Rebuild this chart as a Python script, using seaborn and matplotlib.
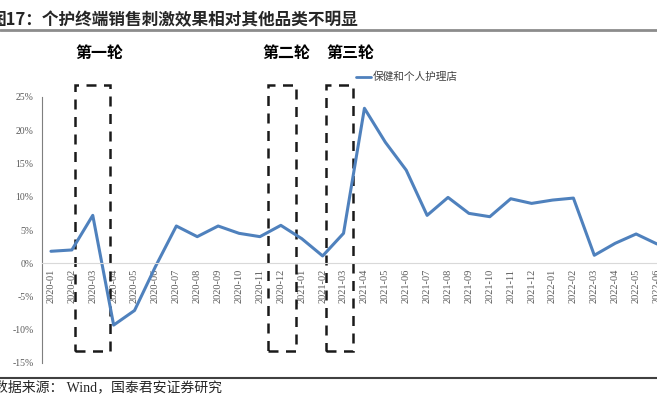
import matplotlib
matplotlib.use('Agg')
import matplotlib.pyplot as plt
from matplotlib.patches import Rectangle
from matplotlib.lines import Line2D
import seaborn as sns
import pandas as pd

# 数据：保健和个人护理店 零售额同比（%）
meses = ['2020-01', '2020-02', '2020-03', '2020-04', '2020-05', '2020-06', '2020-07',
         '2020-08', '2020-09', '2020-10', '2020-11', '2020-12', '2021-01', '2021-02',
         '2021-03', '2021-04', '2021-05', '2021-06', '2021-07', '2021-08', '2021-09',
         '2021-10', '2021-11', '2021-12', '2022-01', '2022-02', '2022-03', '2022-04',
         '2022-05', '2022-06']
valores = [1.8, 2.0, 7.2, -9.3, -7.1, -0.5, 5.6,
           4.0, 5.6, 4.5, 4.0, 5.7, 3.7, 1.1,
           4.5, 23.3, 18.2, 14.0, 7.2, 9.9, 7.5,
           7.0, 9.7, 9.0, 9.5, 9.8, 1.2, 3.0,
           4.4, 2.9]
serie = '保健和个人护理店'
rodadas = ['第一轮', '第二轮', '第三轮']
y_ticks = [-15, -10, -5, 0, 5, 10, 15, 20, 25]

df = pd.DataFrame({'mes': range(len(meses)), 'valor': valores, 'serie': serie})

sns.set_style('white')
plt.rcParams['font.family'] = ['Liberation Serif', 'Noto Sans CJK SC', 'DejaVu Sans']

fig = plt.figure(figsize=(6.57, 3.99), dpi=100)
ax = fig.add_axes([42 / 657, 36 / 399, 615 / 657, 266 / 399])

cor = '#4F81BD'
sns.lineplot(data=df, x='mes', y='valor', color=cor, linewidth=2.2, ax=ax, legend=False)
ax.lines[0].set_solid_joinstyle('round')
ax.lines[0].set_solid_capstyle('round')

ax.set_xlim(-9 / 21, 606 / 21)
ax.set_ylim(-15, 25)
ax.set_xlabel('')
ax.set_ylabel('')

for s in ['top', 'right']:
    ax.spines[s].set_visible(False)
ax.spines['bottom'].set_position(('data', 0))
ax.spines['bottom'].set_color('#D9D9D9')
ax.spines['bottom'].set_linewidth(0.8)
ax.spines['left'].set_color('#7F7F7F')
ax.spines['left'].set_linewidth(0.8)

ax.set_yticks(y_ticks)
ax.set_yticklabels([f'{v}%' for v in y_ticks], fontsize=7, color='#595959')
ax.set_xticks(range(len(meses)))
ax.set_xticklabels(meses, rotation=90, fontsize=7.5, color='#595959', va='top', ha='center')
ax.tick_params(axis='y', direction='in', length=3, color='#7F7F7F', pad=6)
ax.tick_params(axis='x', length=0, pad=4)

# caixas tracejadas das rodadas
caixas = [(1.14, 2.81), (10.38, 11.71), (13.14, 14.43)]
centros_texto = [2.33, 11.29, 14.33]
for (x0, x1), xc, nome in zip(caixas, centros_texto, rodadas):
    ax.add_patch(Rectangle((x0, -13.2), x1 - x0, 40.0, fill=False, edgecolor='#1a1a1a',
                           linewidth=1.8, linestyle=(0, (4, 3)), clip_on=False))
    ax.text(xc, 31.6, nome, ha='center', va='center', fontsize=11.5,
            fontweight='bold', family=['Noto Sans CJK SC'], color='black')

# legenda
handle = Line2D([0], [0], color=cor, linewidth=2)
leg = ax.legend([handle], [serie], loc='center left', bbox_to_anchor=(351 / 657, 322 / 399),
                bbox_transform=fig.transFigure, frameon=False, fontsize=7.7,
                handlelength=1.4, handletextpad=0.15, borderpad=0)
for t in leg.get_texts():
    t.set_color('#404040')
    t.set_family(['Noto Sans CJK SC'])

# título e rodapé
fig.text(-10 / 657, 379 / 399, '图17：个护终端销售刺激效果相对其他品类不明显', fontsize=12,
         fontweight='bold', family=['Noto Sans CJK SC'], ha='left', va='center')
fig.add_artist(Line2D([0, 1], [369 / 399, 369 / 399], color='#8C8C8C', linewidth=2))
fig.add_artist(Line2D([0, 1], [21 / 399, 21 / 399], color='#404040', linewidth=1.5))
fig.text(-6 / 657, 12 / 399, '数据来源： Wind，国泰君安证券研究', fontsize=10,
         family=['Liberation Serif', 'Noto Sans CJK SC'], ha='left', va='center')

fig.savefig('out.png', dpi=100)
